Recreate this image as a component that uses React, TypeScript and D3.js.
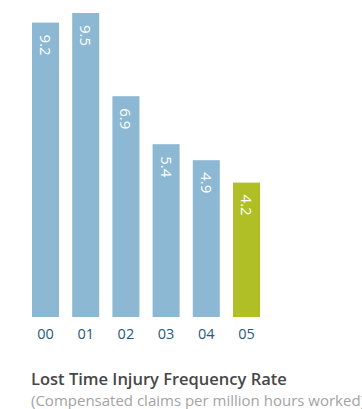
import React from 'react';
import * as d3 from 'd3';

const years = ['00', '01', '02', '03', '04', '05'];
const rates = [9.2, 9.5, 6.9, 5.4, 4.9, 4.2];
const title = 'Lost Time Injury Frequency Rate';
const subtitle = '(Compensated claims per million hours worked)';

const W = 362;
const H = 409;

const App = () => {
    let x = d3.scaleBand()
        .domain(years)
        .range([32, 260])
        .paddingInner(0.328)
        .paddingOuter(0);

    let y = d3.scaleLinear()
        .domain([0, 10])
        .range([317, -3]);

    const font = "'Open Sans', sans-serif";

    return (
        <svg width={W} height={H} style={{ position: 'absolute', left: 0, top: 0 }} fontFamily={font}>
            <rect width={W} height={H} fill="#fff" />
            {rates.map((d, i) => {
                const last = i === rates.length - 1;
                const cx = x(years[i]) + x.bandwidth() / 2;
                return (
                    <g key={years[i]}>
                        <rect
                            x={x(years[i])}
                            y={y(d)}
                            width={x.bandwidth()}
                            height={y(0) - y(d)}
                            fill={last ? '#b1bf27' : '#8db8d3'}
                        />
                        <text
                            transform={`translate(${cx},${y(d) + 12}) rotate(90)`}
                            dy="0.36em"
                            fontSize={15}
                            fill="#fff"
                        >
                            {d.toFixed(1)}
                        </text>
                        <text x={cx} y={339} textAnchor="middle" fontSize={14.5} fill="#255a7c">
                            {years[i]}
                        </text>
                    </g>
                );
            })}
            <text x={31} y={385} fontSize={16.5} fontWeight={600} fill="#474747">{title}</text>
            <text x={31} y={406} fontSize={15} fill="#a3a3a3">{subtitle}</text>
        </svg>
    );
};

export default App;
